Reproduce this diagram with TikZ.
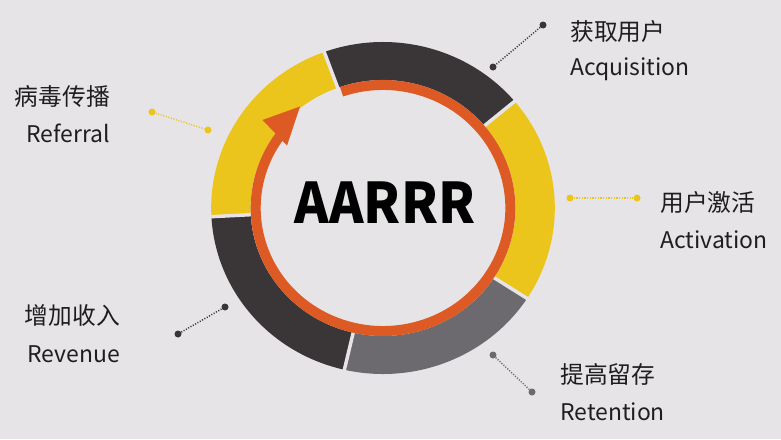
\documentclass[tikz,border=0pt]{standalone}
\usepackage{fontspec}
\newfontfamily\cjk{Noto Sans CJK SC}
\definecolor{bg}{HTML}{E7E4E8}
\definecolor{ylw}{HTML}{EBC41C}
\definecolor{drk}{HTML}{3A3638}
\definecolor{gry}{HTML}{6C6A6E}
\definecolor{org}{HTML}{DD5A24}
\definecolor{txt}{HTML}{1E1E1E}
\begin{document}
\begin{tikzpicture}[x=0.75pt,y=-0.75pt,
 cn/.style={font=\cjk\fontsize{17.8}{20}\selectfont, text=txt, inner sep=0pt},
 en/.style={font=\cjk\fontsize{17.2}{20}\selectfont, text=txt, inner sep=0pt},
 dotend/.style={circle, inner sep=0pt, minimum size=5.25pt},
 leader/.style={line width=1.1pt, dash pattern=on 0.8pt off 1.2pt}]
\fill[bg] (0,0) rectangle (781,439);
\useasboundingbox (0,0) rectangle (781,439);
\def\ringseg#1#2#3{\fill[#3] (#1:166) arc[start angle=#1, end angle=#2, radius=166] -- (#2:128) arc[start angle=#2, end angle=#1, radius=128] -- cycle;}
\begin{scope}[shift={(383,208)}, yscale=-1, xscale=1.035]
 \ringseg{40}{110}{drk}
 \ringseg{110}{183}{ylw}
 \ringseg{183}{257}{drk}
 \ringseg{257}{327}{gry}
 \ringseg{327}{400}{ylw}
 \foreach \a in {40,110,183,257,327}
   \draw[bg, line width=2.6pt] (\a:125) -- (\a:170);
 \draw[org, line width=7.5pt] (109:123) arc[start angle=109, end angle=-217, radius=123];
\end{scope}
\fill[org] (300,106.5) -- (262.5,120) -- (287,145.5) -- cycle;
\node[font=\cjk\bfseries\fontsize{42}{48}\selectfont, text=black, anchor=base, inner sep=0pt] (title) at (385,223) {\scalebox{0.935}[1]{AARRR}};
% leaders
\node[dotend, fill=drk] (a1) at (543,25) {};
\node[dotend, fill=drk] (a2) at (493,67) {};
\draw[leader, drk] (a1) -- (a2);
\node[dotend, fill=ylw] (r1) at (152,112) {};
\node[dotend, fill=ylw] (r2) at (208,130) {};
\draw[leader, ylw] (r1) -- (r2);
\node[dotend, fill=ylw] (v1) at (570,198) {};
\node[dotend, fill=ylw] (v2) at (637,198) {};
\draw[leader, ylw] (v1) -- (v2);
\node[dotend, fill=drk] (e1) at (178,334) {};
\node[dotend, fill=drk] (e2) at (225,307) {};
\draw[leader, drk] (e1) -- (e2);
\node[dotend, fill=gry] (t1) at (493,355) {};
\node[dotend, fill=gry] (t2) at (532,392) {};
\draw[leader, gry] (t1) -- (t2);
% labels
\node[cn, anchor=base west] (acqcn) at (570,40) {获取用户};
\node[en, anchor=base west] (acqen) at (570,75) {Acquisition};
\node[cn, anchor=base east] (refcn) at (110,105) {病毒传播};
\node[en, anchor=base east] (refen) at (110,142) {Referral};
\node[cn, anchor=base west] (actcn) at (660,211) {用户激活};
\node[en, anchor=base west] (acten) at (660,248) {Activation};
\node[cn, anchor=base east] (revcn) at (120,324) {增加收入};
\node[en, anchor=base east] (reven) at (120,362) {Revenue};
\node[cn, anchor=base west] (retcn) at (560,383) {提高留存};
\node[en, anchor=base west] (reten) at (560,420) {Retention};
\end{tikzpicture}
\end{document}
